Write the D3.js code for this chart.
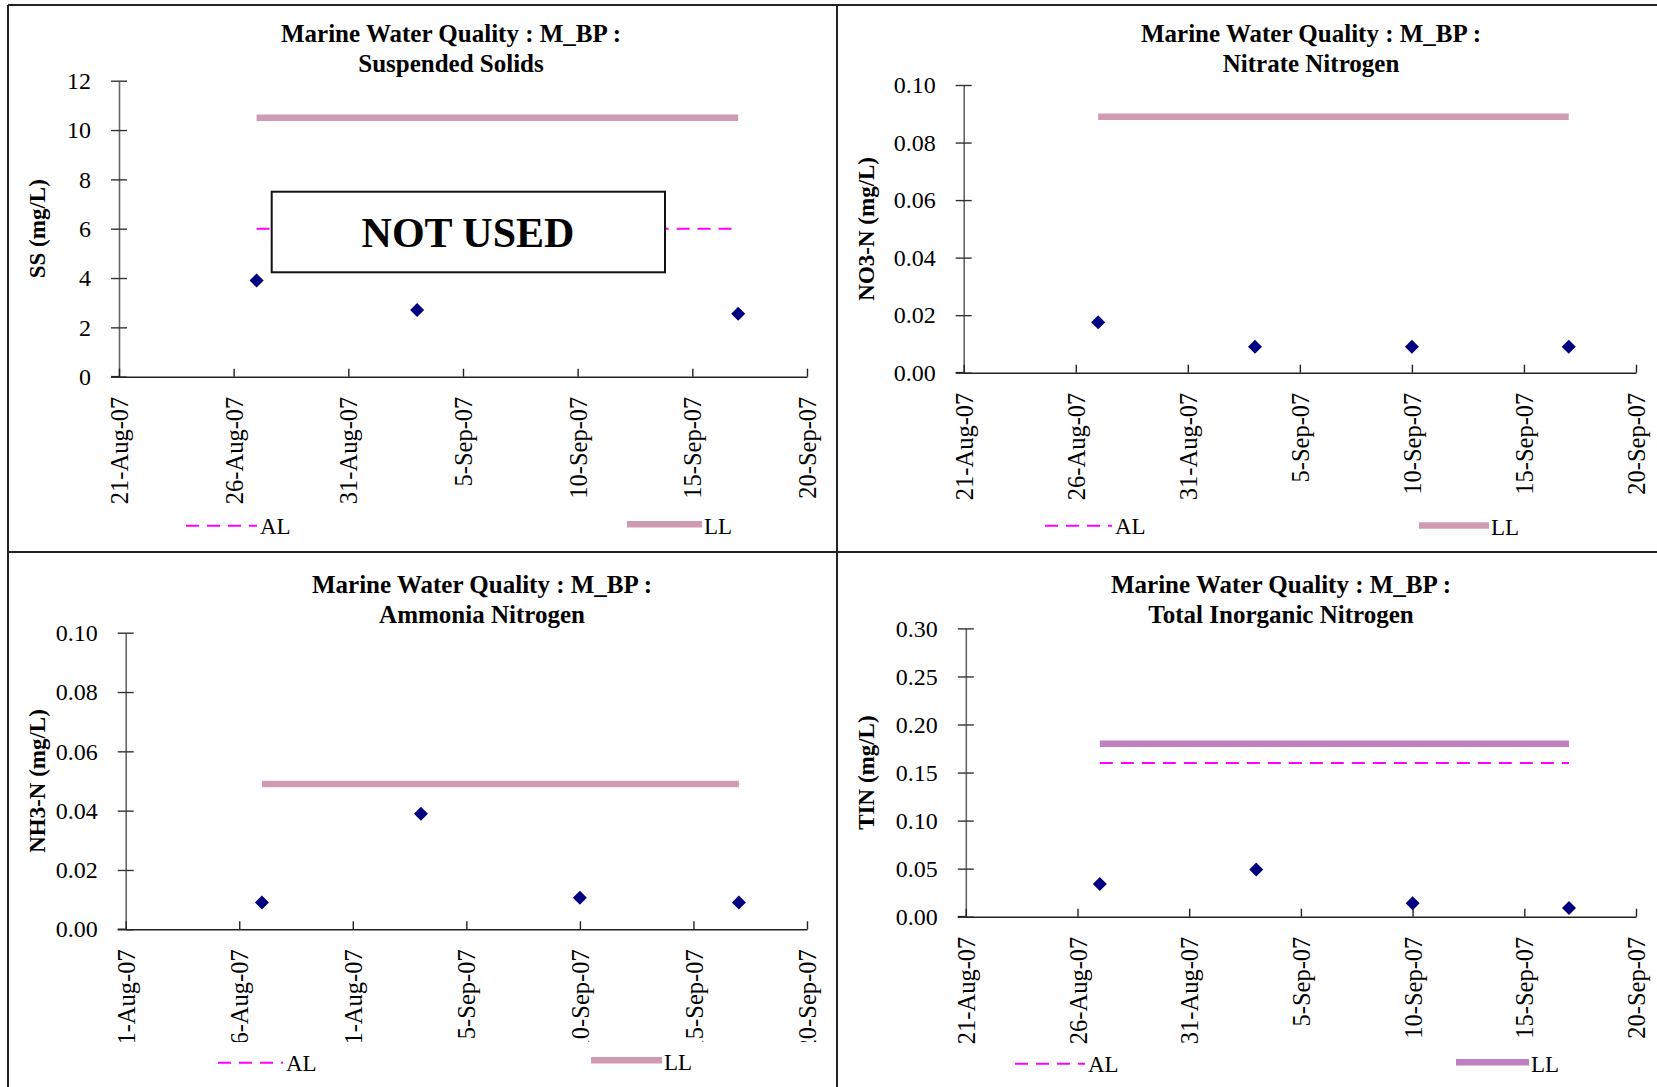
<!DOCTYPE html>
<html>
<head>
<meta charset="utf-8">
<script src="https://cdn.jsdelivr.net/npm/d3@7/dist/d3.min.js"></script>
<style>
  html, body { margin: 0; padding: 0; background: #fff; }
  svg { display: block; }
  text { font-family: "Liberation Serif", "Times New Roman", "DejaVu Serif", serif; fill: #000; }
</style>
</head>
<body>
<svg id="chart" width="1657" height="1087"></svg>
<script>
// ---------------- DATA ----------------
const sampleDates = ["2007-08-27", "2007-09-03", "2007-09-10", "2007-09-17"];
const xTickDates = ["2007-08-21", "2007-08-26", "2007-08-31", "2007-09-05", "2007-09-10", "2007-09-15", "2007-09-20"];
const xTickLabels = ["21-Aug-07", "26-Aug-07", "31-Aug-07", "5-Sep-07", "10-Sep-07", "15-Sep-07", "20-Sep-07"];

const panelTitles = [
  ["Marine Water Quality : M_BP :", "Suspended Solids"],
  ["Marine Water Quality : M_BP :", "Nitrate Nitrogen"],
  ["Marine Water Quality : M_BP :", "Ammonia Nitrogen"],
  ["Marine Water Quality : M_BP :", "Total Inorganic Nitrogen"]
];
const yTitles = ["SS (mg/L)", "NO3-N (mg/L)", "NH3-N (mg/L)", "TIN (mg/L)"];

const ssValues  = [3.9, 2.7, null, 2.55];
const no3Values = [0.0175, 0.009, 0.009, 0.009];
const nh3Values = [0.009, 0.039, 0.0106, 0.009];
const tinValues = [0.034, 0.049, 0.014, 0.009];

const alLimits = [6, null, null, 0.16];     // action level
const llLimits = [10.5, 0.089, 0.049, 0.18]; // limit level

const yTicksSS  = [0, 2, 4, 6, 8, 10, 12];
const yTicksNO3 = [0, 0.02, 0.04, 0.06, 0.08, 0.10];
const yTicksNH3 = [0, 0.02, 0.04, 0.06, 0.08, 0.10];
const yTicksTIN = [0, 0.05, 0.10, 0.15, 0.20, 0.25, 0.30];

const legendLabels = ["AL", "LL"];

// ---------------- LAYOUT ----------------
const parse = d3.utcParse("%Y-%m-%d");
const xDomain = [parse(xTickDates[0]), parse(xTickDates[xTickDates.length - 1])];

const panels = [
  { values: ssValues,  ticks: yTicksSS,  fmt: d3.format("d"),   yMax: 12,
    x: [119, 807],    y: [376.7, 80.7], titleX: 451,  titleY: 42,  yTitleX: 37,
    leg: { al: [186, 257, 525.7], ll: [627, 702, 524.3] }, llColor: "#cf9bb3", clipY: null, notUsed: true },
  { values: no3Values, ticks: yTicksNO3, fmt: d3.format(".2f"), yMax: 0.10,
    x: [963.7, 1636], y: [372.7, 85],   titleX: 1311, titleY: 42,  yTitleX: 866,
    leg: { al: [1045, 1112, 525.7], ll: [1419, 1489, 525.5] }, llColor: "#cf9bb3", clipY: null },
  { values: nh3Values, ticks: yTicksNH3, fmt: d3.format(".2f"), yMax: 0.10,
    x: [125.7, 807],  y: [929.3, 632.7], titleX: 482, titleY: 593, yTitleX: 37,
    leg: { al: [218, 283, 1062.7], ll: [591, 662, 1060.3] }, llColor: "#cf9bb3", clipY: 1042 },
  { values: tinValues, ticks: yTicksTIN, fmt: d3.format(".2f"), yMax: 0.30,
    x: [965.8, 1636], y: [916.7, 628.4], titleX: 1281, titleY: 593, yTitleX: 866,
    leg: { al: [1015, 1085, 1063.7], ll: [1456, 1529, 1062.3] }, llColor: "#bf80bf", clipY: null }
];

const svg = d3.select("#chart");
const defs = svg.append("defs");

// frame
const frame = svg.append("g").attr("stroke", "#222").attr("stroke-width", 2);
frame.append("line").attr("x1", 8).attr("x2", 8).attr("y1", 5).attr("y2", 1087);
frame.append("line").attr("x1", 8).attr("x2", 1657).attr("y1", 5).attr("y2", 5);
frame.append("line").attr("x1", 837).attr("x2", 837).attr("y1", 5).attr("y2", 1087);
frame.append("line").attr("x1", 8).attr("x2", 1657).attr("y1", 552).attr("y2", 552);

panels.forEach((p, i) => {
  const g = svg.append("g");
  const x = d3.scaleUtc().domain(xDomain).range(p.x);
  const y = d3.scaleLinear().domain([0, p.yMax]).range(p.y);

  // title
  const t = g.append("text").attr("x", p.titleX).attr("y", p.titleY)
    .attr("text-anchor", "middle").attr("font-weight", "bold").attr("font-size", 25);
  t.append("tspan").attr("x", p.titleX).attr("dy", 0).text(panelTitles[i][0]);
  t.append("tspan").attr("x", p.titleX).attr("dy", 29.5).text(panelTitles[i][1]);

  // y axis title
  g.append("text")
    .attr("transform", `translate(${p.yTitleX},${(p.y[0] + p.y[1]) / 2}) rotate(-90)`)
    .attr("text-anchor", "middle").attr("dy", "0.35em")
    .attr("font-weight", "bold").attr("font-size", 23)
    .text(yTitles[i]);

  // y axis
  const yAxis = g.append("g").attr("transform", `translate(${p.x[0]},0)`)
    .call(d3.axisLeft(y).tickValues(p.ticks).tickFormat(p.fmt).tickSizeInner(8).tickSizeOuter(0).tickPadding(20));
  yAxis.select(".domain").attr("stroke", "#666").attr("stroke-width", 1.6);
  yAxis.selectAll(".tick line").attr("x1", 8).attr("stroke", "#333").attr("stroke-width", 1.4);
  yAxis.selectAll(".tick text").attr("font-size", 24)
    .attr("font-family", "'Liberation Serif', 'Times New Roman', serif");

  // x axis (wrapped for optional clipping)
  const xWrap = g.append("g");
  if (p.clipY) {
    const cid = "clipx" + i;
    defs.append("clipPath").attr("id", cid).append("rect")
      .attr("x", p.x[0] - 40).attr("y", p.y[0] - 20).attr("width", p.x[1] - p.x[0] + 80)
      .attr("height", p.clipY - (p.y[0] - 20));
    xWrap.attr("clip-path", `url(#${cid})`);
  }
  const xAxis = xWrap.append("g").attr("transform", `translate(0,${p.y[0]})`)
    .call(d3.axisBottom(x).tickValues(xTickDates.map(parse))
      .tickFormat((d, k) => xTickLabels[k]).tickSizeInner(-8).tickSizeOuter(0));
  xAxis.select(".domain").attr("stroke", "#222").attr("stroke-width", 1.6);
  xAxis.selectAll(".tick line").attr("stroke", "#222").attr("stroke-width", 1.4);
  xAxis.selectAll(".tick text")
    .attr("font-size", 24.5)
    .attr("font-family", "'Liberation Serif', 'Times New Roman', serif")
    .attr("transform", "rotate(-90)")
    .attr("text-anchor", "end")
    .attr("x", -20).attr("y", 0).attr("dy", "0.35em");
  // y-axis tick at origin extends left across x axis
  g.append("line").attr("x1", p.x[0] - 8).attr("x2", p.x[0]).attr("y1", y(0)).attr("y2", y(0))
    .attr("stroke", "#222").attr("stroke-width", 1.6);

  const line = d3.line().x(d => x(d.date)).y(d => y(d.v));
  const first = parse(sampleDates[0]), last = parse(sampleDates[sampleDates.length - 1]);

  // AL line
  if (alLimits[i] != null) {
    g.append("path").datum([{ date: first, v: alLimits[i] }, { date: last, v: alLimits[i] }])
      .attr("d", line).attr("fill", "none").attr("stroke", "#ff00ff")
      .attr("stroke-width", 2).attr("stroke-dasharray", "13,8");
  }
  // LL line
  if (llLimits[i] != null) {
    g.append("path").datum([{ date: first, v: llLimits[i] }, { date: last, v: llLimits[i] }])
      .attr("d", line).attr("fill", "none").attr("stroke", p.llColor)
      .attr("stroke-width", 6.5);
  }

  // NOT USED box
  if (p.notUsed) {
    g.append("rect").attr("x", 271.7).attr("y", 191.7).attr("width", 393.3).attr("height", 80.6)
      .attr("fill", "#fff").attr("stroke", "#111").attr("stroke-width", 2);
    g.append("text").attr("x", 468).attr("y", 246.7).attr("text-anchor", "middle")
      .attr("font-weight", "bold").attr("font-size", 42).text("NOT USED");
  }

  // points
  const pts = sampleDates.map((d, k) => ({ date: parse(d), v: p.values[k] })).filter(d => d.v != null);
  g.selectAll(".pt").data(pts).enter().append("path")
    .attr("class", "pt")
    .attr("transform", d => `translate(${x(d.date)},${y(d.v)})`)
    .attr("d", "M0,-7L7,0L0,7L-7,0Z")
    .attr("fill", "#000080");

  // legend
  const L = p.leg;
  g.append("line").attr("x1", L.al[0]).attr("x2", L.al[1]).attr("y1", L.al[2]).attr("y2", L.al[2])
    .attr("stroke", "#ff00ff").attr("stroke-width", 2).attr("stroke-dasharray", "13,8");
  g.append("text").attr("x", L.al[1] + 3).attr("y", L.al[2] + 7.8).attr("font-size", 23).text(legendLabels[0]);
  g.append("line").attr("x1", L.ll[0]).attr("x2", L.ll[1]).attr("y1", L.ll[2]).attr("y2", L.ll[2])
    .attr("stroke", p.llColor).attr("stroke-width", 6.5);
  g.append("text").attr("x", L.ll[1] + 2).attr("y", L.ll[2] + 9.5).attr("font-size", 23).text(legendLabels[1]);
});
</script>
</body>
</html>
